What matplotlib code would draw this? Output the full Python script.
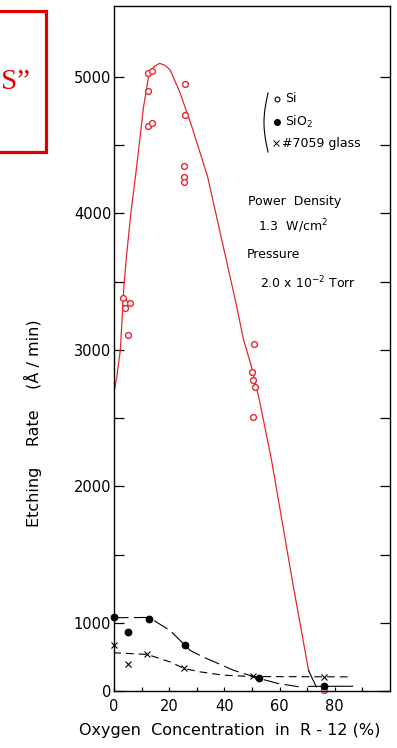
import numpy as np
import matplotlib
matplotlib.use("Agg")
from matplotlib import pyplot as plt
from matplotlib.lines import Line2D
from matplotlib.patches import Rectangle

# measured points (oxygen %, etching rate A/min)
si_x = [3.4, 4.0, 5.7, 4.0, 5.2, 12.3, 13.8, 12.3, 12.3, 13.8,
        25.6, 25.8, 25.3, 25.3, 25.3, 50.9, 50.0, 50.4, 51.0, 50.2, 76.0]
si_y = [3380, 3340, 3340, 3310, 3110, 5030, 5040, 4900, 4640, 4660,
        4950, 4720, 4350, 4270, 4230, 3040, 2840, 2780, 2730, 2510, 10]

sio2_x = [0, 5.2, 12.7, 25.8, 52.7, 76.0]
sio2_y = [1040, 870, 1030, 670, 185, 70]

glass_x = [0, 5.0, 12.0, 25.5, 50.5, 76.0]
glass_y = [680, 390, 540, 330, 220, 207]

# hand drawn guide curves
si_curve_x = [0.3, 1.0, 2.3, 3.6, 4.6, 6.1, 7.6, 10.7, 12.5, 14.5, 16.5, 18.5, 20.4, 24.0,
              28.3, 33.9, 44.0, 47.0, 49.5, 52.5, 57.1, 64.6, 70.5]
si_curve_y = [2720, 2800, 3000, 3470, 3700, 4000, 4240, 4780, 5000, 5075, 5100, 5085, 5050, 4880,
              4630, 4270, 3360, 3070, 2900, 2650, 2190, 1310, 300]
si_tail_x = [70.5, 73.3]
si_tail_y = [300, 60]

sio2_curve_x = [-0.4, 12.7, 20.4, 27.6, 32.4, 43.3, 52.7, 59.2, 66.9]
sio2_curve_y = [1037, 1039, 884, 594, 497, 304, 184, 112, 62]
sio2_tail_x = [70.5, 86.5]
sio2_tail_y = [68, 70]

glass_curve_x = [-0.3, 12.1, 20.4, 25.5, 31.3, 39.6, 50.1, 85.2]
glass_curve_y = [561, 536, 425, 329, 280, 232, 212, 207]

red = '#e8262b'
W, H = 397, 748


def fwd(y):
    y = np.asarray(y, dtype=float)
    return np.where(y < 1000, y * 0.5, y - 500)


def inv(y):
    y = np.asarray(y, dtype=float)
    return np.where(y < 500, y * 2, y + 500)


def fx(px):
    return px / W


def fy(py):
    return 1 - py / H


fig = plt.figure(figsize=(W / 100, H / 100), dpi=100)
ax = fig.add_axes([fx(114), fy(691), (390 - 114) / W, (691 - 6) / H])
ax.set_yscale('function', functions=(fwd, inv))
ax.set_xlim(0, 100)
ax.set_ylim(0, 5520)

# curves
ax.plot(si_curve_x, si_curve_y, color=red, lw=0.9)
ax.plot(si_tail_x, si_tail_y, color='black', lw=0.8)
ax.plot(sio2_curve_x, sio2_curve_y, color='black', lw=0.8, ls=(0, (14, 5)))
ax.plot(sio2_tail_x, sio2_tail_y, color='black', lw=0.8)
ax.plot(glass_curve_x, glass_curve_y, color='black', lw=0.8, ls=(0, (7, 4.5)))

# points
ax.plot(si_x, si_y, 'o', mfc='white', mec=red, mew=1.0, ms=4.2, ls='none', clip_on=False)
ax.plot(sio2_x, sio2_y, 'o', color='black', ms=4.6, ls='none', clip_on=False)
ax.plot(glass_x, glass_y, 'x', color='black', mew=0.8, ms=4.5, ls='none', clip_on=False)

# ticks
ax.set_yticks([0, 1000, 2000, 3000, 4000, 5000])
ax.set_yticks([1500, 2500, 3500, 4500], minor=True)
ax.set_xticks([0, 20, 40, 60, 80])
ax.set_xticks([10, 30, 50, 70, 90], minor=True)
ax.tick_params(axis='y', which='both', direction='in', length=7.5, width=0.9,
               right=True, labelsize=10.5, pad=2)
ax.tick_params(axis='x', which='both', direction='in', length=3, width=0.9,
               labelsize=10.5, pad=6)
ax.yaxis.set_minor_formatter(plt.NullFormatter())
for s in ax.spines.values():
    s.set_linewidth(1.0)

ax.set_xlabel('Oxygen  Concentration  in  R - 12 (%)', fontsize=11.5)
ax.xaxis.set_label_coords((230 - 114) / 276, -(723 - 691) / 685)
ax.set_ylabel('Etching    Rate    (Å / min)', fontsize=11.5)
ax.yaxis.label.set_va('center')
ax.yaxis.set_label_coords((33 - 114) / 276, (691 - 423) / 685)

# key and conditions
t = np.linspace(0, 1, 40)
fig.add_artist(Line2D(fx(268 - 4 * np.sin(np.pi * t)), fy(93 + 59 * t), color='black', lw=0.8))
fig.add_artist(Line2D([fx(277)], [fy(99)], marker='o', mfc='white', mec='black', ms=3.5, mew=0.8))
fig.add_artist(Line2D([fx(277)], [fy(122)], marker='o', color='black', ms=4))
fig.add_artist(Line2D([fx(276)], [fy(143)], marker='x', color='black', ms=4, mew=0.7))
fig.text(fx(285), fy(99), 'Si', fontsize=9, va='center')
fig.text(fx(285), fy(122), 'SiO$_2$', fontsize=9, va='center')
fig.text(fx(282), fy(143), '#7059 glass', fontsize=9, va='center')
fig.text(fx(248), fy(202), 'Power  Density', fontsize=9, va='center')
fig.text(fx(258), fy(226), '1.3  W/cm$^2$', fontsize=9, va='center')
fig.text(fx(247), fy(254), 'Pressure', fontsize=9, va='center')
fig.text(fx(260), fy(283), '2.0 x 10$^{-2}$ Torr', fontsize=9, va='center')

# red box from slide
fig.add_artist(Rectangle((fx(-5), fy(152)), fx(51), (152 - 11) / H, fill=False,
                         edgecolor='#e00000', lw=2.3))
fig.text(fx(1), fy(89), 'S”', fontsize=21, family='Liberation Serif', color='#e00000',
         ha='left', va='baseline')

fig.savefig('out.png', dpi=100)
